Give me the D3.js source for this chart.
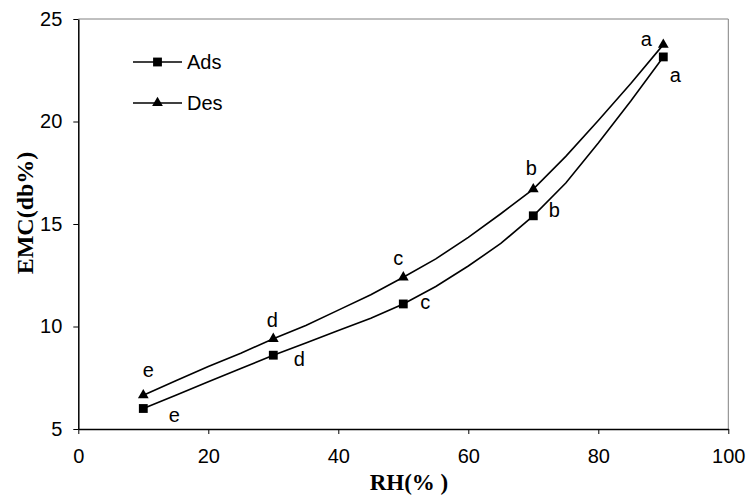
<!DOCTYPE html>
<html>
<head>
<meta charset="utf-8">
<script src="https://cdn.jsdelivr.net/npm/d3@7"></script>
<style>
  body { margin: 0; background: #fff; }
  text { font-family: "Liberation Sans", Arial, sans-serif; }
</style>
</head>
<body>
<div id="chart-area"></div>
<script>
// measured points (markers) and their group letters
const rh = [10, 30, 50, 70, 90]
const adsEmc = [6.0, 8.6, 11.1, 15.4, 23.15]
const desEmc = [6.65, 9.4, 12.4, 16.7, 23.75]
const adsLetters = ["e", "d", "c", "b", "a"]
const desLetters = ["e", "d", "c", "b", "a"]

// fitted curves
const curveRh = [10, 15, 20, 25, 30, 35, 40, 45, 50, 55, 60, 65, 70, 75, 80, 85, 90]
const adsCurve = [6.0, 6.65, 7.3, 7.95, 8.6, 9.2, 9.8, 10.4, 11.1, 11.95, 12.95, 14.05, 15.4, 17.0, 18.95, 21.0, 23.15]
const desCurve = [6.65, 7.35, 8.05, 8.7, 9.4, 10.05, 10.8, 11.55, 12.4, 13.3, 14.35, 15.5, 16.7, 18.3, 20.05, 21.85, 23.75]

const xTicks = [0, 20, 40, 60, 80, 100]
const yTicks = [5, 10, 15, 20, 25]

// letter offsets next to each marker (px)
const adsLabelOffset = [[31, 13], [26, 11], [22, 5], [21, 1], [12, 25]]
const desLabelOffset = [[5, -18], [-1, -12], [-5, -12], [-2, -14], [-17, 1]]

const SVG_WIDTH = 749
const SVG_HEIGHT = 498
const MARGIN = { left: 78.3, right: 20.7, top: 19, bottom: 69 }
const G_WIDTH = SVG_WIDTH - MARGIN.left - MARGIN.right
const G_HEIGHT = SVG_HEIGHT - MARGIN.top - MARGIN.bottom

const svg = d3.select("#chart-area").append("svg")
  .attr("width", SVG_WIDTH)
  .attr("height", SVG_HEIGHT)

const g = svg.append("g")
  .attr("transform", `translate(${MARGIN.left}, ${MARGIN.top})`)

const x = d3.scaleLinear().domain([0, 100]).range([0, G_WIDTH])
const y = d3.scaleLinear().domain([5, 25]).range([G_HEIGHT, 0])

// top and right frame (grey)
g.append("path")
  .attr("d", `M0,0H${G_WIDTH}V${G_HEIGHT}`)
  .attr("fill", "none")
  .attr("stroke", "#808080")
  .attr("stroke-width", 1)

const xAxisCall = d3.axisBottom(x).tickValues(xTicks).tickSize(5).tickSizeOuter(0).tickPadding(15)
const xAxis = g.append("g")
  .attr("transform", `translate(0, ${G_HEIGHT})`)
  .call(xAxisCall)

const yAxisCall = d3.axisLeft(y).tickValues(yTicks).tickSize(5).tickSizeOuter(0).tickPadding(11)
const yAxis = g.append("g").call(yAxisCall)

for (const ax of [xAxis, yAxis]) {
  ax.select(".domain").attr("stroke", "#000").attr("stroke-width", 1.5)
  ax.selectAll(".tick line").attr("stroke", "#000").attr("stroke-width", 1)
  ax.selectAll(".tick text")
    .attr("font-family", "Liberation Sans, Arial, sans-serif")
    .attr("font-size", "20px")
    .attr("fill", "#000")
}

// axis titles
svg.append("text")
  .attr("x", 409)
  .attr("y", 490)
  .attr("text-anchor", "middle")
  .style("font-family", "Liberation Serif, Times New Roman, serif")
  .style("font-weight", "bold")
  .style("font-size", "23px")
  .text("RH(% )")

svg.append("text")
  .attr("transform", "translate(33, 213) rotate(-90)")
  .attr("text-anchor", "middle")
  .style("font-family", "Liberation Serif, Times New Roman, serif")
  .style("font-weight", "bold")
  .style("font-size", "24px")
  .text("EMC(db%)")

const line = d3.line()
  .x(d => x(d[0]))
  .y(d => y(d[1]))

const series = [
  { name: "Ads", curve: adsCurve, pts: adsEmc, letters: adsLetters, off: adsLabelOffset, symbol: d3.symbolSquare, size: 78 },
  { name: "Des", curve: desCurve, pts: desEmc, letters: desLetters, off: desLabelOffset, symbol: d3.symbolTriangle, size: 50 }
]

series.forEach(s => {
  g.append("path")
    .datum(curveRh.map((r, i) => [r, s.curve[i]]))
    .attr("fill", "none")
    .attr("stroke", "#000")
    .attr("stroke-width", 1.6)
    .attr("d", line)

  g.selectAll(null)
    .data(rh.map((r, i) => [r, s.pts[i]]))
    .enter().append("path")
    .attr("transform", d => `translate(${x(d[0])}, ${y(d[1])})`)
    .attr("d", d3.symbol().type(s.symbol).size(s.size))
    .attr("fill", "#000")

  g.selectAll(null)
    .data(rh.map((r, i) => [r, s.pts[i], s.letters[i], s.off[i]]))
    .enter().append("text")
    .attr("x", d => x(d[0]) + d[3][0])
    .attr("y", d => y(d[1]) + d[3][1])
    .attr("text-anchor", "middle")
    .attr("font-size", "20px")
    .text(d => d[2])
})

// legend
const legend = svg.append("g")
series.forEach((s, i) => {
  const ly = 62 + i * 41
  legend.append("line")
    .attr("x1", 133).attr("x2", 182)
    .attr("y1", ly).attr("y2", ly)
    .attr("stroke", "#000")
    .attr("stroke-width", 1.6)
  legend.append("path")
    .attr("transform", `translate(157.5, ${ly})`)
    .attr("d", d3.symbol().type(s.symbol).size(s.size))
    .attr("fill", "#000")
  legend.append("text")
    .attr("x", 187)
    .attr("y", ly + 7)
    .attr("font-size", "20px")
    .text(s.name)
})
</script>
</body>
</html>
